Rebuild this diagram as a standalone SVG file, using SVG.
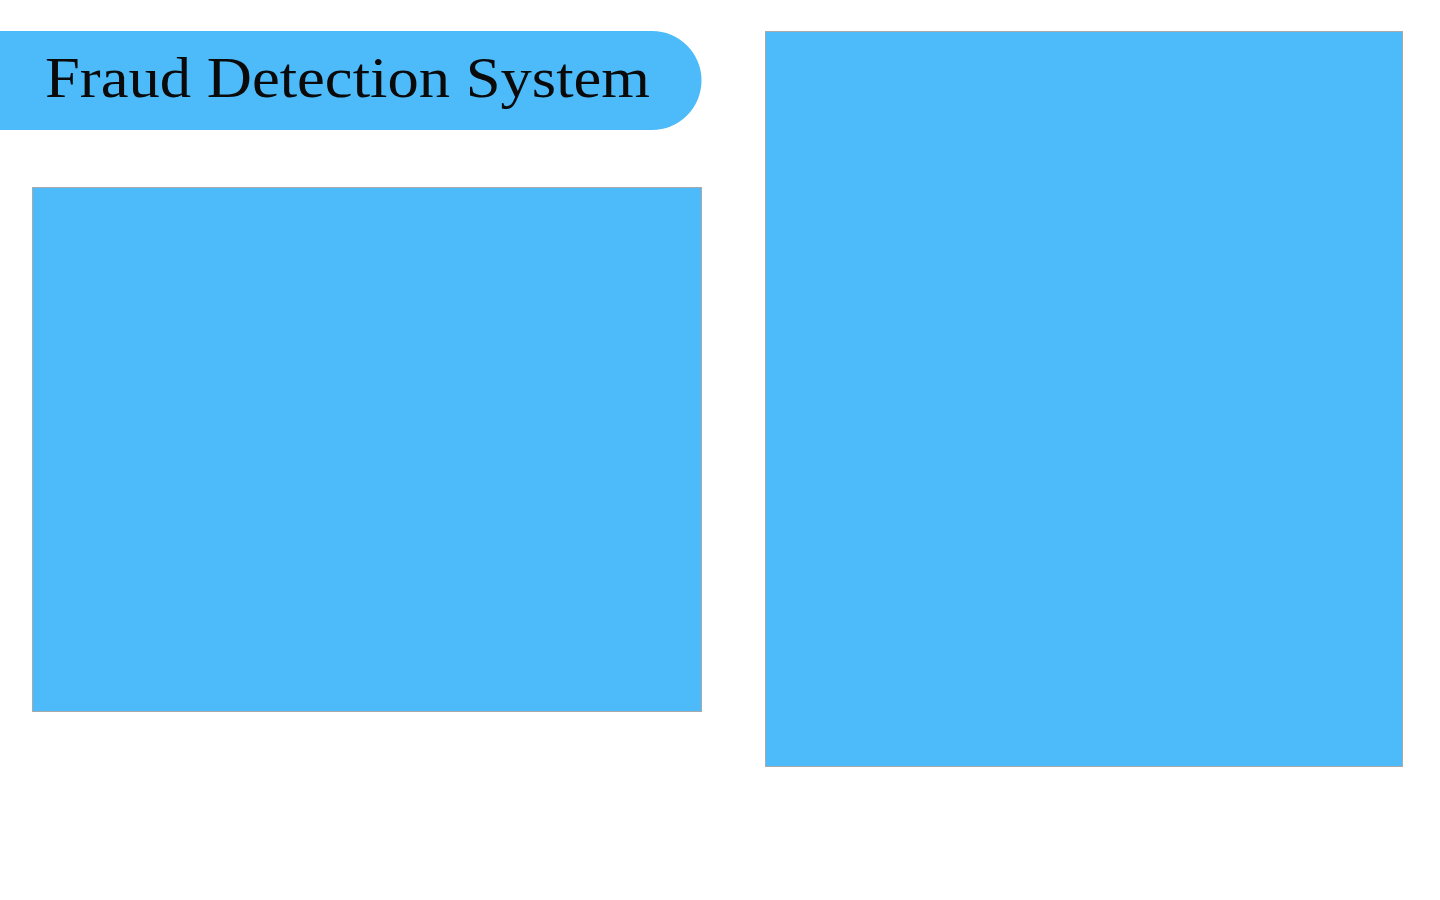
<svg xmlns="http://www.w3.org/2000/svg" width="1440" height="900" viewBox="0 0 1440 900">
<style>
.panel{fill:#4dbbf9;stroke:#a9a9a9;stroke-width:1}
.title{font-family:"Liberation Serif","DejaVu Serif",serif;font-size:58px;fill:#0a0a0a}
</style>
<rect width="1440" height="900" fill="#ffffff"/>
<g id="title">
<path d="M-10 31 H652 A49.5 49.5 0 0 1 652 130 H-10 Z" fill="#4dbbf9"/>
<text class="title" x="45" y="97" textLength="605" lengthAdjust="spacingAndGlyphs">Fraud Detection System</text>
</g>
<g id="panel-left">
<rect class="panel" x="32.5" y="187.5" width="669" height="524"/>
</g>
<g id="panel-right">
<rect class="panel" x="765.5" y="31.5" width="637" height="735"/>
</g>
<g id="connectors"></g>
</svg>
